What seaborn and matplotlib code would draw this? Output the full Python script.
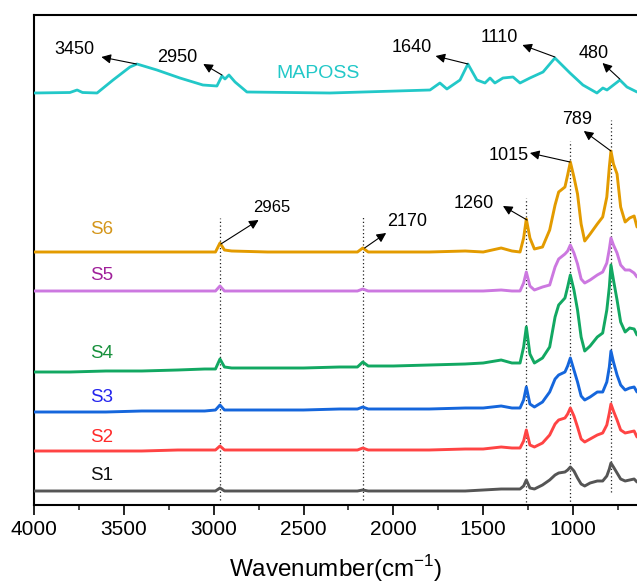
import matplotlib
matplotlib.use("Agg")
import matplotlib.pyplot as plt
import numpy as np
import pandas as pd
import seaborn as sns

# ---- spectra (wavenumber in cm-1, band intensity above each trace's baseline, a.u.) ----
wavenumber = [4000, 3800, 3600, 3400, 3200, 3050, 2990, 2965, 2940, 2900, 2700, 2500, 2300,
              2200, 2170, 2140, 2000, 1800, 1600, 1500, 1400, 1340, 1295, 1275, 1260, 1240,
              1215, 1170, 1130, 1100, 1080, 1045, 1030, 1015, 995, 975, 955, 935, 905, 865,
              835, 812, 798, 789, 775, 755, 735, 710, 685, 660, 644]

s1 = [0, 0, 0, 0, 0, 0, 0, 3, 0, 0, 0, 0, 0, 0, 1, 0, 0, 0, 0, 1, 2, 2, 2, 5, 11, 3,
      2, 6, 11, 16, 18, 19, 21, 24, 20, 13, 7, 5, 8, 10, 10, 15, 22, 28, 24, 18, 12, 10, 11, 12, 9]
s2 = [0, 0, 0, 0, 1, 1, 1, 5, 1, 1, 1, 1, 1, 1, 3, 1, 1, 1, 2, 2, 4, 3, 3, 10, 21, 6,
      4, 8, 16, 27, 31, 33, 37, 43, 35, 24, 12, 9, 12, 16, 18, 26, 38, 47, 40, 31, 21, 18, 19, 20, 14]
s3 = [0, 0, 0, 1, 1, 1, 2, 7, 2, 2, 2, 2, 3, 3, 5, 3, 3, 3, 4, 4, 6, 4, 4, 12, 25, 8,
      5, 10, 20, 33, 37, 40, 46, 54, 42, 30, 16, 12, 15, 20, 20, 30, 45, 61, 50, 37, 27, 22, 24, 25, 20]
s4 = [0, 0, 1, 1, 2, 3, 3, 13, 5, 4, 4, 4, 5, 5, 10, 6, 6, 7, 8, 9, 12, 9, 9, 25, 45, 18,
      9, 14, 25, 55, 67, 74, 85, 97, 82, 62, 35, 21, 26, 35, 39, 62, 85, 107, 92, 72, 50, 40, 44, 43, 37]
s5 = [0, 0, 0, 0, 0, 0, 0, 5, 0, 0, 0, 0, 0, 0, 2, 0, 0, 0, 0, 0, 1, 0, 0, 8, 19, 5,
      1, 4, 6, 24, 32, 37, 40, 46, 38, 27, 12, 8, 11, 16, 19, 28, 42, 53, 46, 38, 26, 21, 21, 18, 14]
s6 = [0, 0, 0, 0, 0, 0, 0, 9, 2, 1, 0, 0, 0, 0, 4, 0, 0, 0, 1, 0, 4, 1, 0, 14, 33, 14,
      3, 5, 22, 47, 60, 65, 77, 90, 75, 58, 28, 11, 18, 28, 35, 55, 85, 101, 88, 78, 45, 30, 34, 36, 25]

maposs_wavenumber = [4000, 3800, 3760, 3730, 3649, 3560, 3466, 3427, 3316, 3188, 3060, 2982,
                     2954, 2937, 2915, 2881, 2815, 2353, 1796, 1741, 1702, 1629, 1585, 1535,
                     1490, 1462, 1435, 1390, 1334, 1295, 1240, 1167, 1101, 1017, 945, 867, 834,
                     811, 739, 700, 644]
maposs = [0, 0.5, 3, 0.5, 0, 13, 26, 29, 23, 15, 8, 7, 17, 14, 18, 11, 1, 0, 3, 10, 4, 13,
          29, 13, 10, 15, 10, 15, 16, 10, 15, 21, 35, 20, 8, 0, 5, 3, 13, 6, 1]

names = ["S1", "S2", "S3", "S4", "S5", "S6"]
offsets = [14, 54, 93, 133, 214, 253]
maposs_offset = 412

line_colors = ["#555555", "#ff4444", "#1566dc", "#12a862", "#cc78e0", "#e39b00"]
label_colors = ["#111111", "#ff2a2a", "#2424ee", "#17903c", "#a0209a", "#d4961a"]
maposs_color = "#22c8c8"

# label anchor positions (x in cm-1, y in a.u.)
label_x = 3622
label_y = [30, 68, 108, 152, 230, 275]

# marked bands: (text, peak x, peak y, text x, text y, arrow head x, arrow head y, size)
callouts = [
    ("3450", 3430, 441, 3775, 455, 3625, 448, 13),
    ("2950", 2954, 430, 3200, 447, 3058, 441, 13),
    ("1640", 1585, 441, 1896, 457, 1765, 449, 13),
    ("1110", 1101, 448, 1412, 467, 1282, 460, 13),
    ("480", 740, 426, 886, 452, 836, 442, 13),
    ("2965", 2960, 261, 2675, 297, 2750, 285, 12),
    ("2170", 2160, 257, 1926, 284, 2040, 272, 13),
    ("1260", 1256, 285, 1555, 302, 1390, 299, 13),
    ("1015", 1017, 343, 1360, 349, 1240, 352, 13),
    ("789", 789, 354, 978, 386, 940, 374, 13),
]
guide_x = [2965, 2170, 1260, 1015, 789]
guide_top = [287, 289, 307, 364, 385]
guide_bottom = [5, 5, 3, 0, 13]

sns.set_theme(style="white")
plt.rcParams["font.family"] = ["Liberation Sans", "DejaVu Sans"]
plt.rcParams["mathtext.fontset"] = "custom"
plt.rcParams["mathtext.rm"] = "Liberation Sans"

W, H = 637, 586
fig = plt.figure(figsize=(W / 100, H / 100), dpi=100)
ax = fig.add_axes([34 / W, 81 / H, (W - 34) / W, 490 / H])

frames = []
for name, off, vals in zip(names, offsets, [s1, s2, s3, s4, s5, s6]):
    frames.append(pd.DataFrame({"wavenumber": wavenumber,
                                "intensity": np.asarray(vals, float) + off,
                                "sample": name}))
spectra = pd.concat(frames, ignore_index=True)

for name, col in zip(names, line_colors):
    sns.lineplot(data=spectra[spectra["sample"] == name], x="wavenumber", y="intensity",
                 color=col, lw=2.1, ax=ax, estimator=None, sort=False, zorder=3)

sns.lineplot(x=maposs_wavenumber, y=np.asarray(maposs, float) + maposs_offset,
             color=maposs_color, lw=2.0, ax=ax, estimator=None, sort=False, zorder=3)

for x, top, bot in zip(guide_x, guide_top, guide_bottom):
    ax.vlines(x, bot, top, colors="#222222", linestyles=(0, (1, 2)), lw=0.9, zorder=2)

for name, y, col in zip(names, label_y, label_colors):
    ax.text(label_x, y, name, color=col, fontsize=13.5, ha="center", va="center")
ax.text(2420, 431, "MAPOSS", color=maposs_color, fontsize=14, ha="center", va="center")

for txt, px, py, tx, ty, hx, hy, fs in callouts:
    ax.annotate("", xy=(hx, hy), xytext=(px, py),
                arrowprops=dict(arrowstyle="-|>", color="black", lw=0.8,
                                mutation_scale=14, shrinkA=0, shrinkB=0))
    ax.text(tx, ty, txt, fontsize=fs, ha="center", va="center", color="black")

ax.set_xlim(4000, 644)
ax.set_ylim(0, 490)
ax.set_xticks([4000, 3500, 3000, 2500, 2000, 1500, 1000])
ax.set_xticks(np.arange(3750, 600, -500), minor=True)
ax.set_yticks([])
ax.tick_params(axis="x", which="major", direction="out", length=7, width=1.2,
               labelsize=15, pad=4, bottom=True, colors="black")
ax.tick_params(axis="x", which="minor", direction="out", length=3.6, width=1.2, bottom=True)
ax.set_xlabel("Wavenumber(cm$^{-1}$)", fontsize=17.5, labelpad=10, color="black")
ax.set_ylabel("")
for side in ["left", "bottom", "top"]:
    ax.spines[side].set_color("black")
    ax.spines[side].set_linewidth(1.5)
ax.spines["right"].set_visible(False)

fig.savefig("out.png", dpi=100)
